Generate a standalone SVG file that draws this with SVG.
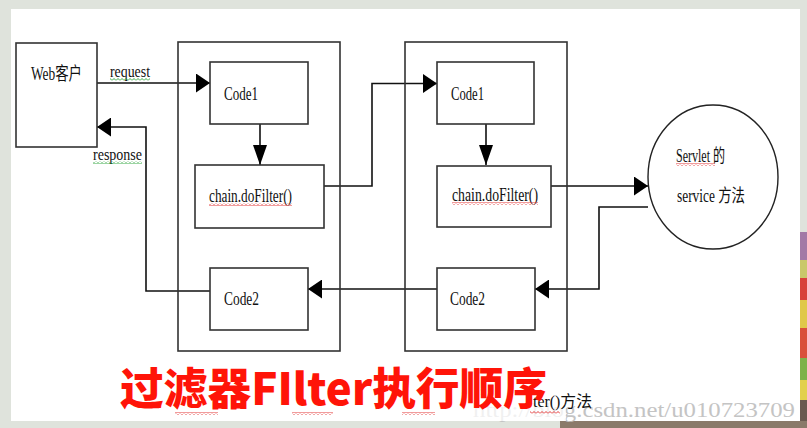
<svg xmlns="http://www.w3.org/2000/svg" width="807" height="428" viewBox="0 0 807 428">
<style>
.box{fill:#fff;stroke:#333;stroke-width:1.6}
.frame{fill:none;stroke:#333;stroke-width:1.6}
.con{fill:none;stroke:#111;stroke-width:1.6}
.t{font-family:"Liberation Serif","Noto Sans CJK SC",serif;font-size:18px;fill:#111}
.title{font-family:"Noto Sans CJK SC","Noto Sans",sans-serif;font-weight:900;font-size:44px;fill:#ff1408}
.wm{font-family:"Liberation Serif",serif;font-size:21px;fill:#c4c4c4}
</style>
<defs>
<marker id="ah" markerUnits="userSpaceOnUse" markerWidth="15" markerHeight="19" refX="14" refY="9.5" orient="auto">
<path d="M0,0 L14,9.5 L0,19 z" fill="#000"/>
</marker>
<marker id="av" markerUnits="userSpaceOnUse" markerWidth="21" markerHeight="15" refX="20" refY="7" orient="auto">
<path d="M0,0 L20,7 L0,14 z" fill="#000"/>
</marker>
<pattern id="wavyR" patternUnits="userSpaceOnUse" width="4" height="3">
<path d="M0,2.5 L2,0.5 L4,2.5" fill="none" stroke="#e02020" stroke-width="0.9"/>
</pattern>
<pattern id="wavyG" patternUnits="userSpaceOnUse" width="4" height="3">
<path d="M0,2.5 L2,0.5 L4,2.5" fill="none" stroke="#20a030" stroke-width="0.9"/>
</pattern>
</defs>

<!-- background -->
<rect x="0" y="0" width="807" height="428" fill="#dfe3dc"/>
<rect x="800" y="232" width="7" height="28" fill="#a27aa6"/>
<rect x="800" y="260" width="7" height="18" fill="#c9c86a"/>
<rect x="800" y="278" width="7" height="22" fill="#d8413a"/>
<rect x="800" y="300" width="7" height="28" fill="#e0c84a"/>
<rect x="800" y="328" width="7" height="30" fill="#d9503a"/>
<rect x="800" y="358" width="7" height="22" fill="#7db24a"/>
<rect x="800" y="380" width="7" height="20" fill="#e2d04c"/>
<rect x="800" y="400" width="7" height="28" fill="#6a5a50"/>
<rect x="560" y="421" width="247" height="7" fill="#8a7a6a"/>
<rect x="11" y="9" width="789" height="412" fill="#fff"/>

<!-- connectors -->
<g id="connectors">
<path class="con" d="M97,83 H210" marker-end="url(#ah)"/>
<path class="con" d="M260,124 V165" marker-end="url(#av)"/>
<path class="con" d="M324,186 H372 V83.5 H437" marker-end="url(#ah)"/>
<path class="con" d="M486,124 V165" marker-end="url(#av)"/>
<path class="con" d="M551,186 H648" marker-end="url(#ah)"/>
<path class="con" d="M648,207 H599 V289 H535" marker-end="url(#ah)"/>
<path class="con" d="M437,289 H308" marker-end="url(#ah)"/>
<path class="con" d="M210,291 H146 V127 H97" marker-end="url(#ah)"/>
</g>

<g id="filter1">
<rect class="frame" x="178" y="42" width="162" height="309"/>
</g>
<g id="filter2">
<rect class="frame" x="405" y="42" width="162" height="309"/>
</g>

<g id="web">
<rect class="box" x="16" y="43" width="81" height="104"/>
<text class="t" x="31" y="80" textLength="51" lengthAdjust="spacingAndGlyphs">Web客户</text>
</g>

<g id="labels">
<text class="t" x="110" y="77" textLength="40" lengthAdjust="spacingAndGlyphs" style="font-size:16px">request</text>
<rect x="110" y="78" width="40" height="3" fill="url(#wavyG)"/>
<text class="t" x="93" y="160" textLength="49" lengthAdjust="spacingAndGlyphs" style="font-size:16px">response</text>
<rect x="93" y="161" width="49" height="3" fill="url(#wavyG)"/>
</g>

<g id="code1a">
<rect class="box" x="210" y="62" width="98" height="62"/>
<text class="t" x="224" y="100" textLength="34" lengthAdjust="spacingAndGlyphs">Code1</text>
</g>
<g id="chain1">
<rect class="box" x="195" y="165" width="129" height="63"/>
<text class="t" x="209" y="202" textLength="83" lengthAdjust="spacingAndGlyphs">chain.doFilter()</text>
<rect x="209" y="203" width="83" height="3" fill="url(#wavyR)"/>
</g>
<g id="code2a">
<rect class="box" x="210" y="268" width="98" height="62"/>
<text class="t" x="224" y="305" textLength="35" lengthAdjust="spacingAndGlyphs">Code2</text>
</g>

<g id="code1b">
<rect class="box" x="437" y="62" width="97" height="62"/>
<text class="t" x="451" y="100" textLength="33" lengthAdjust="spacingAndGlyphs">Code1</text>
</g>
<g id="chain2">
<rect class="box" x="437" y="166" width="114" height="61"/>
<text class="t" x="452" y="201" textLength="86" lengthAdjust="spacingAndGlyphs">chain.doFilter()</text>
<rect x="452" y="202" width="86" height="3" fill="url(#wavyR)"/>
</g>
<g id="code2b">
<rect class="box" x="437" y="268" width="98" height="62"/>
<text class="t" x="450" y="305" textLength="35" lengthAdjust="spacingAndGlyphs">Code2</text>
</g>

<g id="servlet">
<ellipse cx="713" cy="177" rx="65" ry="72" fill="#fff" stroke="#222" stroke-width="1.4"/>
<text class="t" x="676" y="162" textLength="49" lengthAdjust="spacingAndGlyphs">Servlet 的</text>
<rect x="676" y="163" width="39" height="3" fill="url(#wavyR)"/>
<text class="t" x="677" y="202" textLength="68" lengthAdjust="spacingAndGlyphs">service 方法</text>
</g>

<!-- watermark, partly covered -->
<text class="wm" x="473" y="417" textLength="322" lengthAdjust="spacingAndGlyphs">http://blog.csdn.net/u010723709</text>
<rect x="470" y="396" width="96" height="25" fill="#fff" opacity="0.75"/>

<!-- bottom caption fragments -->
<text class="t" x="533" y="407" textLength="59" lengthAdjust="spacingAndGlyphs" style="font-size:16px">ter()方法</text>
<rect x="175" y="412" width="43" height="3" fill="url(#wavyR)"/>
<rect x="292" y="412" width="41" height="3" fill="url(#wavyR)"/>
<rect x="402" y="412" width="33" height="3" fill="url(#wavyR)"/>
<rect x="530" y="411" width="30" height="3" fill="url(#wavyR)"/>

<text class="title" x="120" y="405" textLength="427" lengthAdjust="spacingAndGlyphs">过滤器FIlter执行顺序</text>
</svg>
